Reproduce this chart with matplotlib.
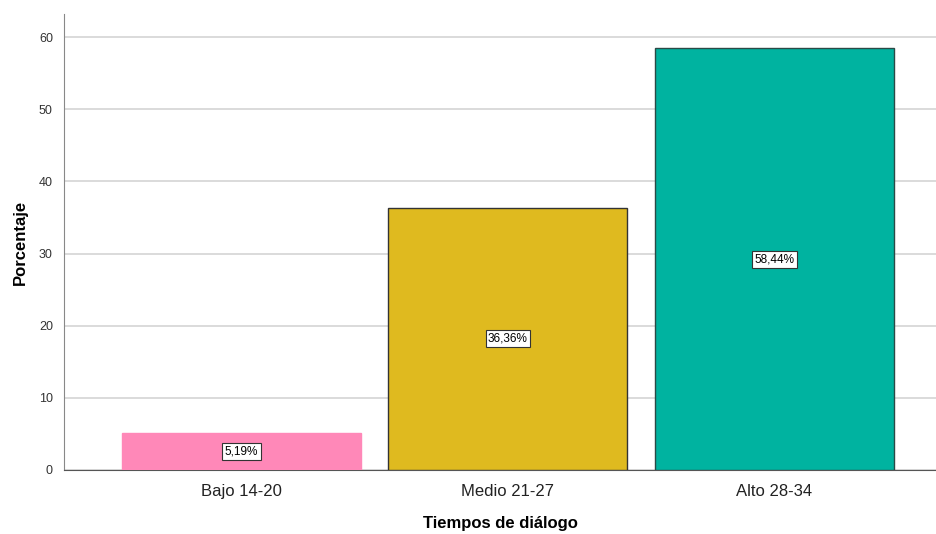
import matplotlib.pyplot as plt
import numpy as np

plt.rcParams['font.family'] = ['Liberation Sans', 'DejaVu Sans']

# data
categorias = ['Bajo 14-20', 'Medio 21-27', 'Alto 28-34']
porcentajes = [5.19, 36.36, 58.44]
colores = ['#FF88B8', '#DFBA1F', '#00B3A0']
bordes = ['#FF88B8', '#333333', '#2a4a46']
etiquetas = ['5,19%', '36,36%', '58,44%']
yticks = [0, 10, 20, 30, 40, 50, 60]

fig = plt.figure(figsize=(9.37, 5.34), dpi=100)
ax = fig.add_axes([64/937, 64/534, 873/937, 456/534])

x = np.arange(len(categorias))
ax.bar(x, porcentajes, width=0.897, color=colores, edgecolor=bordes, linewidth=1, zorder=3)

for xi, v, t in zip(x, porcentajes, etiquetas):
    ax.text(xi, v/2, t, ha='center', va='center', fontsize=8.5, zorder=4,
            bbox=dict(boxstyle='square,pad=0.2', fc='white', ec='#333333', lw=0.8))

ax.set_xlim(-0.666, 2.61)
ax.set_ylim(0, 63.2)
ax.set_yticks(yticks)
ax.set_xticks(x)
ax.set_xticklabels(categorias, fontsize=12, color='#222222')
ax.tick_params(axis='y', labelsize=9, labelcolor='#333333', length=0, pad=8)
ax.tick_params(axis='x', length=0, pad=10)
ax.grid(axis='y', color='#d4d4d4', lw=1.2, zorder=0)

for s in ['top', 'right']:
    ax.spines[s].set_visible(False)
ax.spines['left'].set_color('#888888')
ax.spines['bottom'].set_color('#555555')

ax.set_ylabel('Porcentaje', fontsize=12, fontweight='bold', labelpad=8)
ax.set_xlabel('Tiempos de diálogo', fontsize=12, fontweight='bold', labelpad=12)

fig.savefig('out.png', dpi=100)
